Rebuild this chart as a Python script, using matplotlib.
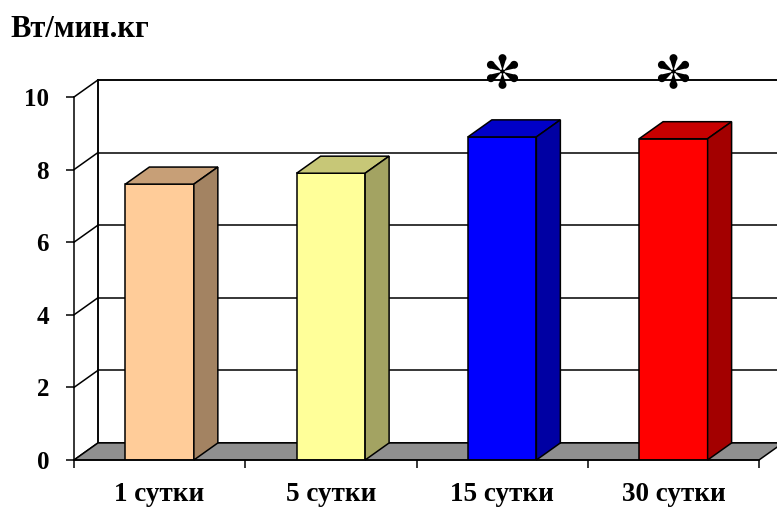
import numpy as np
import matplotlib.pyplot as plt
import matplotlib.patches as patches
import matplotlib.colors as mcolors
from matplotlib.path import Path

categories = ["1 сутки", "5 сутки", "15 сутки", "30 сутки"]
values = [7.6, 7.9, 8.9, 8.85]
bar_colors = ["#FFCC99", "#FFFF99", "#0000FF", "#FF0000"]
marked = [False, False, True, True]
y_ticks = [0, 2, 4, 6, 8, 10]

plt.rcParams['font.family'] = ['Liberation Serif', 'DejaVu Serif', 'DejaVu Sans']
plt.rcParams['font.weight'] = 'bold'

fig = plt.figure(figsize=(7.77, 5.12), dpi=100)
ax = fig.add_axes([74 / 777, 52 / 512, 685 / 777, 363 / 512])
ax.set_xlim(0, len(categories))
ax.set_ylim(0, 10)

# depth offset of the 3D box, in data units
dx, dy = 0.14, 0.47
ymax = y_ticks[-1]
n = len(categories)
lw = 1.1


def shade(c, f):
    r, g, b = mcolors.to_rgb(c)
    return (r * f, g * f, b * f)


def teardrop_star():
    # six teardrop spokes, like the dingbat asterisk
    verts, codes = [], []
    t = np.linspace(np.radians(-40), np.radians(220), 30)
    bulb = np.column_stack([0.22 * np.cos(t), 0.74 + 0.22 * np.sin(t)])
    drop = np.vstack([[0.0, 0.05], bulb, [0.0, 0.05]])
    for k in range(6):
        a = np.radians(60 * k)
        rot = np.array([[np.cos(a), -np.sin(a)], [np.sin(a), np.cos(a)]])
        pts = drop @ rot.T
        verts.extend(pts.tolist())
        codes.extend([Path.MOVETO] + [Path.LINETO] * (len(pts) - 2) + [Path.CLOSEPOLY])
    t = np.linspace(0, 2 * np.pi, 20)
    centre = np.column_stack([0.12 * np.cos(t), 0.12 * np.sin(t)])
    verts.extend(centre.tolist())
    codes.extend([Path.MOVETO] + [Path.LINETO] * (len(centre) - 2) + [Path.CLOSEPOLY])
    return Path(verts, codes)


# back wall and left wall
ax.add_patch(patches.Rectangle((dx, dy), n, ymax, facecolor='white',
                               edgecolor='black', lw=lw, zorder=1, clip_on=False))
for v in y_ticks:
    ax.plot([dx, n + dx], [v + dy, v + dy], color='black', lw=lw, zorder=1.2, clip_on=False)
    ax.plot([0, dx], [v, v + dy], color='black', lw=lw, zorder=1.2, clip_on=False)
ax.plot([dx, dx], [dy, ymax + dy], color='black', lw=lw, zorder=1.2, clip_on=False)

# floor
ax.add_patch(patches.Polygon([(0, 0), (n, 0), (n + dx, dy), (dx, dy)],
                             closed=True, facecolor='#8f8f8f', edgecolor='black',
                             lw=lw, zorder=1.5, clip_on=False))

# bars
xs = [i + 0.5 for i in range(n)]
width = 0.4
ax.bar(xs, values, width=width, color=bar_colors, edgecolor='black', lw=lw, zorder=3)
star = teardrop_star()
for x, v, c, m in zip(xs, values, bar_colors, marked):
    x0, x1 = x - width / 2, x + width / 2
    ax.add_patch(patches.Polygon([(x0, v), (x1, v), (x1 + dx, v + dy), (x0 + dx, v + dy)],
                                 closed=True, facecolor=shade(c, 0.78), edgecolor='black',
                                 lw=lw, zorder=3, clip_on=False))
    ax.add_patch(patches.Polygon([(x1, 0), (x1 + dx, dy), (x1 + dx, v + dy), (x1, v)],
                                 closed=True, facecolor=shade(c, 0.64), edgecolor='black',
                                 lw=lw, zorder=3, clip_on=False))
    if m:
        ax.plot([x], [10.72], marker=star, markersize=25, color='black',
                markeredgewidth=0, zorder=4, clip_on=False)

# axes
for s in ['top', 'right']:
    ax.spines[s].set_visible(False)
ax.spines['left'].set_linewidth(lw)
ax.spines['bottom'].set_linewidth(lw)
ax.spines['left'].set_zorder(4)
ax.spines['bottom'].set_zorder(4)
ax.set_yticks(y_ticks)
ax.tick_params(axis='y', length=6, width=lw, pad=12, labelsize=18)
ax.set_xticks(range(n + 1))
ax.set_xticklabels([])
ax.set_xticks(xs, minor=True)
ax.set_xticklabels(categories, minor=True)
ax.tick_params(axis='x', which='major', length=6, width=lw)
ax.tick_params(axis='x', which='minor', length=0, pad=16, labelsize=19.5)

fig.text(10 / 777, 1 - 37 / 512, "Вт/мин.кг", fontsize=22, fontweight='bold',
         ha='left', va='baseline')

fig.savefig('out.png', dpi=100)
